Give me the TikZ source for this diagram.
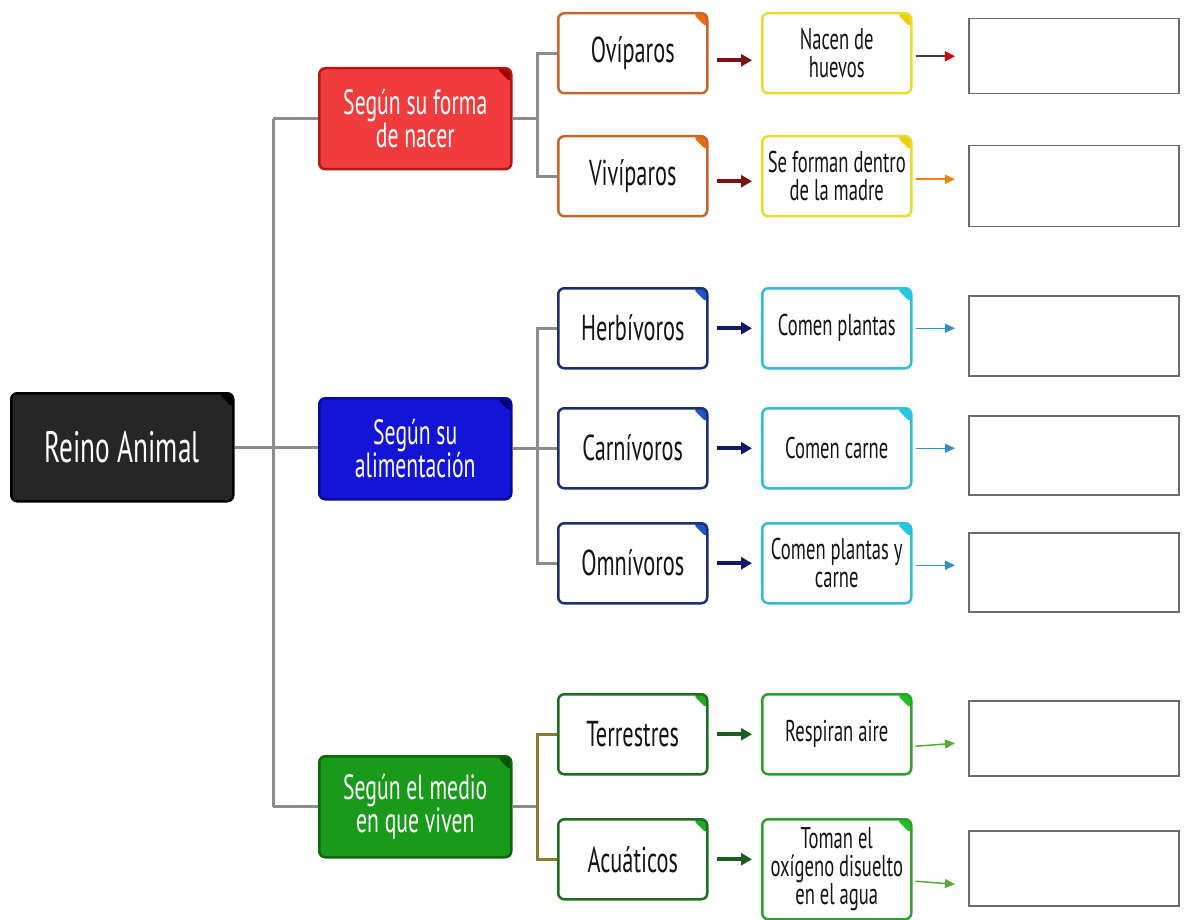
\documentclass[tikz,border=0pt]{standalone}
\usepackage{fontspec}
\setmainfont{PT Sans}[FakeStretch=0.62]
\usetikzlibrary{arrows.meta}
\definecolor{reinofill}{HTML}{262626}
\definecolor{redfill}{HTML}{F03C3C}
\definecolor{redline}{HTML}{B81515}
\definecolor{redtri}{HTML}{A00000}
\definecolor{bluefill}{HTML}{1414D6}
\definecolor{blueline}{HTML}{0A0A9A}
\definecolor{bluetri}{HTML}{00007A}
\definecolor{greenfill}{HTML}{1A9A1A}
\definecolor{greenline}{HTML}{0E660E}
\definecolor{greentri}{HTML}{005500}
\definecolor{orline}{HTML}{C4682A}
\definecolor{ortri}{HTML}{EE6A10}
\definecolor{nvline}{HTML}{1C2F6E}
\definecolor{nvtri}{HTML}{1E56C8}
\definecolor{dgline}{HTML}{1E6E1E}
\definecolor{dgtri}{HTML}{22AA22}
\definecolor{yeline}{HTML}{E8DC30}
\definecolor{yetri}{HTML}{F0CC00}
\definecolor{cyline}{HTML}{34BCD4}
\definecolor{cytri}{HTML}{20C8E8}
\definecolor{lgline}{HTML}{2EA02E}
\definecolor{lgtri}{HTML}{20C020}
\definecolor{conncol}{HTML}{8C8C8C}
\definecolor{olive}{HTML}{8A7A30}
\definecolor{txt}{HTML}{141414}
\definecolor{arA}{HTML}{7A1212}
\definecolor{arB}{HTML}{101868}
\definecolor{arC}{HTML}{1B5E20}
\tikzset{
  x=1pt, y=-1pt,
  base/.style={rounded corners=6pt, line width=2.5pt, inner sep=0pt, anchor=north west, align=center},
  corner/.style={path picture={\fill[#1] ([xshift=-15pt]path picture bounding box.north east) -- (path picture bounding box.north east) -- ([yshift=-15pt]path picture bounding box.north east) -- cycle;}},
  cat/.style={base, minimum width=192pt, minimum height=101pt, text=white, font=\fontsize{35}{30}\selectfont},
  lvtwo/.style={base, fill=white, minimum width=149pt, minimum height=80pt, text=txt, font=\fontsize{36}{40}\selectfont},
  lvthree/.style={base, fill=white, minimum width=149pt, minimum height=80pt, text=txt, font=\fontsize{30}{28}\selectfont},
  emptybox/.style={draw=black!58, line width=1.5pt, fill=white, anchor=north west, minimum width=210pt, inner sep=0pt},
  conn/.style={draw=conncol, line width=3pt},
  fat/.style={line width=4pt, -{Triangle[length=11pt,width=12pt]}, shorten <=8pt, shorten >=9pt},
  slim/.style={line width=1.5pt, -{Triangle[length=10pt,width=9pt]}},
}
\begin{document}
\begin{tikzpicture}
\useasboundingbox[fill=white] (0,0) rectangle (1186,920);
% level 1
\node[base, draw=black, fill=reinofill, corner=black, minimum width=222pt, minimum height=108pt, text=white, font=\fontsize{44}{44}\selectfont] (reino) at (10,392) {Reino Animal};
% categories
\node[cat, draw=redline, fill=redfill, corner=redtri] (forma) at (318,67) {Según su forma\\de nacer};
\node[cat, draw=blueline, fill=bluefill, corner=bluetri] (alim) at (318,397) {Según su\\alimentación};
\node[cat, draw=greenline, fill=greenfill, corner=greentri] (medio) at (318,755) {Según el medio\\en que viven};
% level 2
\node[lvtwo, draw=orline, corner=ortri] (ovi) at (557,12) {Ovíparos};
\node[lvtwo, draw=orline, corner=ortri] (vivi) at (557,135) {Vivíparos};
\node[lvtwo, draw=nvline, corner=nvtri] (herb) at (557,287) {Herbívoros};
\node[lvtwo, draw=nvline, corner=nvtri] (carn) at (557,407) {Carnívoros};
\node[lvtwo, draw=nvline, corner=nvtri] (omni) at (557,522) {Omnívoros};
\node[lvtwo, draw=dgline, corner=dgtri] (terr) at (557,693) {Terrestres};
\node[lvtwo, draw=dgline, corner=dgtri] (acua) at (557,818) {Acuáticos};
% level 3
\node[lvthree, draw=yeline, corner=yetri] (nac) at (761,12) {Nacen de\\huevos};
\node[lvthree, draw=yeline, corner=yetri] (sef) at (761,135) {Se forman dentro\\de la madre};
\node[lvthree, draw=cyline, corner=cytri] (cp) at (761,287) {Comen plantas};
\node[lvthree, draw=cyline, corner=cytri] (cc) at (761,407) {Comen carne};
\node[lvthree, draw=cyline, corner=cytri] (cpc) at (761,522) {Comen plantas y\\carne};
\node[lvthree, draw=lgline, corner=lgtri] (ra) at (761,693) {Respiran aire};
\node[lvthree, draw=lgline, corner=lgtri, minimum height=100pt] (to) at (761,818) {Toman el\\oxígeno disuelto\\en el agua};
% level 4
\node[emptybox, minimum height=75pt] (e1) at (968,18) {};
\node[emptybox, minimum height=81pt] (e2) at (968,145) {};
\node[emptybox, minimum height=80pt] (e3) at (968,295) {};
\node[emptybox, minimum height=79pt] (e4) at (968,415) {};
\node[emptybox, minimum height=79pt] (e5) at (968,532) {};
\node[emptybox, minimum height=75pt] (e6) at (968,700) {};
\node[emptybox, minimum height=75pt] (e7) at (968,830) {};
% trunk connectors
\coordinate (t1) at (273,0);
\coordinate (t2) at (537,0);
\draw[conn] (reino.east) -- (reino.east -| alim.west);
\draw[conn] (t1 |- forma.west) -- (t1 |- medio.west);
\draw[conn] (t1 |- forma.west) -- (forma.west);
\draw[conn] (t1 |- medio.west) -- (medio.west);
\draw[conn] (forma.east) -- (t2 |- forma.east);
\draw[conn] (ovi.west) -- (t2 |- ovi.west) -- (t2 |- vivi.west) -- (vivi.west);
\draw[conn] (alim.east) -- (t2 |- alim.east);
\draw[conn] (carn.west) -- (t2 |- carn.west);
\draw[conn] (herb.west) -- (t2 |- herb.west) -- (t2 |- omni.west) -- (omni.west);
\draw[conn] (medio.east) -- (t2 |- medio.east);
\draw[draw=olive, line width=3pt] (terr.west) -- (t2 |- terr.west) -- (t2 |- acua.west) -- (acua.west);
% thick arrows
\draw[fat, arA] ([yshift=-7pt]ovi.east) -- ([yshift=-7pt]nac.west);
\draw[fat, arA] ([yshift=-5pt]vivi.east) -- ([yshift=-5pt]sef.west);
\draw[fat, arB] (herb) -- (cp);
\draw[fat, arB] (carn) -- (cc);
\draw[fat, arB] (omni) -- (cpc);
\draw[fat, arC] (terr) -- (ra);
\draw[fat, arC] (acua.east) -- (acua.east -| to.west);
% thin arrows
\draw[slim, draw=black!75, -{Triangle[length=10pt,width=10pt,color=red!85!black]}] ([xshift=3pt,yshift=-3pt]nac.east) -- ([xshift=-13pt]e1.west);
\draw[slim, draw=orange!80!brown] ([xshift=3pt,yshift=-3pt]sef.east) -- ([xshift=-13pt,yshift=7pt]e2.west);
\draw[slim, draw=blue!40!cyan!60!gray] ([xshift=3pt]cp.east) -- ([xshift=-13pt]cp.east -| e3.west);
\draw[slim, draw=blue!40!cyan!60!gray] ([xshift=3pt]cc.east) -- ([xshift=-13pt]cc.east -| e4.west);
\draw[slim, draw=blue!40!cyan!60!gray] ([xshift=3pt,yshift=-2pt]cpc.east) -- ([xshift=-13pt,yshift=-2pt]cpc.east -| e5.west);
\draw[slim, draw=olive!50!green!70!gray] ([xshift=3pt,yshift=-12pt]ra.east) -- ([xshift=-13pt,yshift=-9pt]ra.east -| e6.west);
\draw[slim, draw=olive!50!green!70!gray] ([xshift=3pt,yshift=-12pt]to.east) -- ([xshift=-13pt,yshift=-15pt]to.east -| e7.west);
\end{tikzpicture}
\end{document}
